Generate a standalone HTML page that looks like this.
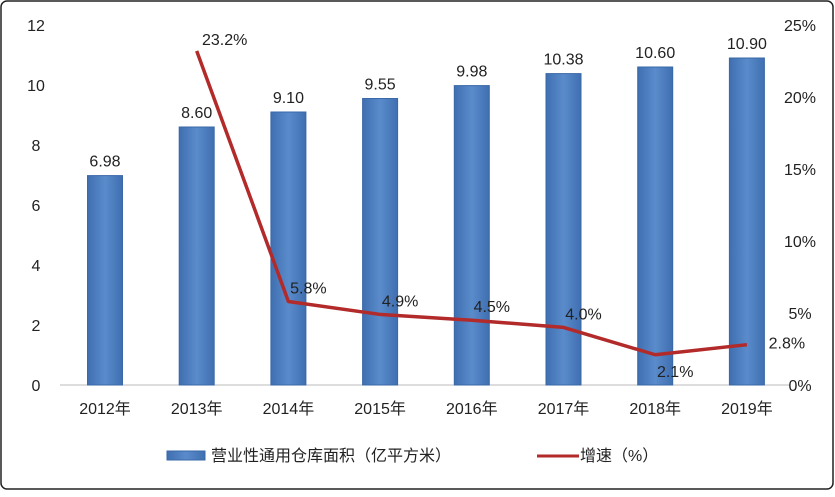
<!DOCTYPE html>
<html><head><meta charset="utf-8"><style>
body{margin:0;background:#fff;}
svg{display:block;font-family:"Liberation Sans","Noto Sans CJK SC",sans-serif;}
</style></head><body>
<svg width="835" height="497">
<defs><linearGradient id="bg" x1="0" x2="1"><stop offset="0" stop-color="#3f6fb0"/><stop offset="0.5" stop-color="#5a8bcb"/><stop offset="1" stop-color="#3f6fb0"/></linearGradient></defs>
<rect x="1" y="1" width="832" height="488" rx="6" fill="#fff" stroke="#222" stroke-width="1.5"/>
<g id="axes"></g><g id="bars"></g><g id="line"></g><g id="labels"></g>
<g>
<rect x="167" y="451" width="38" height="9" fill="url(#bg)" stroke="#3a68a8"/>
<text x="211" y="461" font-size="16" fill="#222">营业性通用仓库面积（亿平方米）</text>
<line x1="537" y1="456" x2="579" y2="456" stroke="#b22a2a" stroke-width="3"/>
<text x="580" y="461" font-size="16" fill="#222">增速（%）</text>
</g>
</svg>
<script>
const categories=["2012年","2013年","2014年","2015年","2016年","2017年","2018年","2019年"];
const areaValues=[6.98,8.60,9.10,9.55,9.98,10.38,10.60,10.90];
const growthValues=[null,23.2,5.8,4.9,4.5,4.0,2.1,2.8];
const leftTicks=[0,2,4,6,8,10,12];
const rightTicks=[0,5,10,15,20,25];
const NS="http://www.w3.org/2000/svg";
const y0=385,y1=25;
const yL=v=>y0-(v/12)*(y0-y1);
const yR=v=>y0-(v/25)*(y0-y1);
const xC=i=>105+i*91.7;
function mk(tag,attrs,parent,txt){const e=document.createElementNS(NS,tag);for(const k in attrs)e.setAttribute(k,attrs[k]);if(txt!==undefined)e.textContent=txt;document.getElementById(parent).appendChild(e);return e;}
let e=mk("line",{x1:60,x2:790,y1:y0,y2:y0,stroke:"#bbb"},"axes");


leftTicks.forEach(t=>{const el=mk("text",{x:36,y:yL(t)+6,"font-size":16,"text-anchor":"middle",fill:"#222"},"axes",t);

});
rightTicks.forEach(t=>{const el=mk("text",{x:800,y:yR(t)+6,"font-size":16,"text-anchor":"middle",fill:"#222"},"axes",t+"%");

});
categories.forEach((c,i)=>{const el=mk("text",{x:xC(i),y:414,"font-size":16,"text-anchor":"middle",fill:"#222"},"axes",c);

});
areaValues.forEach((v,i)=>{const b=mk("rect",{x:xC(i)-17.5,y:yL(v),width:35,height:y0-yL(v),fill:"url(#bg)",stroke:"#3a68a8","stroke-width":1},"bars");


const t=mk("text",{x:xC(i),y:yL(v)-9,"font-size":16,"text-anchor":"middle",fill:"#222"},"labels",v.toFixed(2));

});
const pts=[];growthValues.forEach((v,i)=>{if(v!==null)pts.push([xC(i),yR(v),v,i]);});
const pl=mk("polyline",{points:pts.map(p=>p[0]+","+p[1]).join(" "),fill:"none",stroke:"#b22a2a","stroke-width":3.5,"stroke-linejoin":"round"},"line");


const off={1:[28,-6],2:[20,-8],3:[20,-8],4:[20,-8],5:[20,-8],6:[20,22],7:[40,4]};
pts.forEach(p=>{const o=off[p[3]];const t=mk("text",{x:p[0]+o[0],y:p[1]+o[1],"font-size":16,"text-anchor":"middle",fill:"#222"},"labels",p[2].toFixed(1)+"%");

});
</script>
</body></html>
